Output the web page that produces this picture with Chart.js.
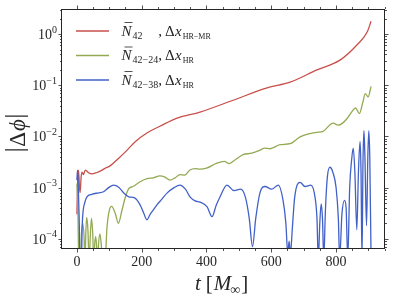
<!DOCTYPE html>
<html>
<head>
<meta charset="utf-8">
<script src="https://cdn.jsdelivr.net/npm/chart.js@4.4.0/dist/chart.umd.min.js"></script>
<style>
  html, body { margin: 0; padding: 0; background: #fff; }
</style>
</head>
<body>
<canvas id="chartFase" width="395" height="299"></canvas>
<script>
// --- dati (t in M, |dphi|) ---
var tRed = [0, 2, 5, 8, 10, 13, 16, 20, 26, 36, 46, 60, 75, 88, 100, 130, 155, 180, 216, 256, 309, 380, 482, 587, 658, 741, 812, 865, 896, 908];
var valRed = [3.0e-4, 1.1e-3, 2.2e-3, 1.0e-3, 8.0e-4, 1.6e-3, 2.0e-3, 1.8e-3, 2.2e-3, 1.95e-3, 1.85e-3, 1.95e-3, 2.15e-3, 2.4e-3, 2.6e-3, 3.8e-3, 5.4e-3, 7.9e-3, 1.17e-2, 1.58e-2, 2.29e-2, 3.0e-2, 5.1e-2, 8.9e-2, 1.15e-1, 2.0e-1, 3.1e-1, 6.2e-1, 1.1, 1.78];

var tGreen = [0, 3, 6, 11, 14, 18, 22, 25, 27, 30, 34, 38, 41, 45, 49, 52, 55, 58, 61, 64, 67, 71, 75, 80, 86, 93, 100, 107, 118, 128, 139, 150, 160, 173, 195, 216, 236, 256, 272, 287, 303, 318, 333, 349, 365, 380, 400, 432, 455, 470, 490, 513, 540, 565, 580, 596, 627, 658, 689, 715, 740, 760, 791, 806, 820, 834, 853, 860, 872, 882, 890, 899, 908];
var valGreen = [1.2e-3, 4.0e-4, 3e-5, 3e-5, 1.2e-4, 2.0e-4, 1.1e-4, 3e-5, 1.0e-4, 2.6e-4, 1.5e-4, 3e-5, 1.0e-4, 2.5e-4, 1.2e-4, 3e-5, 8e-5, 1.1e-4, 7e-5, 3e-5, 8e-5, 1.25e-4, 8e-5, 3e-5, 3e-5, 1.7e-4, 3.6e-4, 4.3e-4, 3.2e-4, 2.0e-4, 3.6e-4, 6.6e-4, 9.5e-4, 1.05e-3, 1.3e-3, 1.5e-3, 1.55e-3, 1.7e-3, 1.6e-3, 1.4e-3, 1.55e-3, 1.8e-3, 1.75e-3, 2.2e-3, 2.35e-3, 2.3e-3, 2.4e-3, 3.0e-3, 3.25e-3, 2.95e-3, 3.55e-3, 4.4e-3, 4.7e-3, 5.4e-3, 5.9e-3, 5.75e-3, 6.9e-3, 7.2e-3, 9.8e-3, 1.12e-2, 1.2e-2, 1.26e-2, 1.82e-2, 1.66e-2, 1.82e-2, 2.24e-2, 3.3e-2, 3.6e-2, 2.8e-2, 4.5e-2, 6.9e-2, 5.9e-2, 9.5e-2];

var tBlue = [0, 2, 4, 7, 10, 14, 16, 19, 24, 31, 46, 67, 82, 98, 113, 129, 144, 160, 178, 195, 206, 216, 226, 235, 247, 263, 278, 300, 318, 335, 349, 365, 380, 402, 417, 430, 442, 463, 485, 505, 520, 532, 542, 552, 565, 581, 601, 622, 636, 645, 651, 655, 659, 665, 672, 689, 704, 722, 735, 741, 745, 750, 754, 758, 762, 767, 773, 781, 790, 800, 807, 811, 818, 826, 831, 836, 842, 848, 853, 858, 864, 869, 874, 877, 880, 883, 886, 889, 894, 898, 901, 904, 908];
var valBlue = [1.4e-3, 2.2e-3, 1.2e-3, 2.5e-4, 3e-5, 3e-5, 1.5e-4, 3.4e-4, 5.0e-4, 6.6e-4, 7.4e-4, 7.9e-4, 8.3e-4, 1.0e-3, 1.12e-3, 1.02e-3, 7.9e-4, 6.6e-4, 6.3e-4, 4.6e-4, 3.2e-4, 2.35e-4, 3.0e-4, 3.6e-4, 4.6e-4, 6.0e-4, 7.8e-4, 1.0e-3, 1.12e-3, 9.3e-4, 6.6e-4, 5.5e-4, 5.2e-4, 4.2e-4, 2.7e-4, 4.5e-4, 6.6e-4, 1.12e-3, 8.7e-4, 9.3e-4, 6.5e-4, 2.5e-4, 7e-5, 2.5e-4, 7.9e-4, 1.05e-3, 9.3e-4, 1.12e-3, 5.8e-4, 2.0e-4, 5e-5, 9e-5, 5e-5, 1.6e-4, 6.3e-4, 1.26e-3, 1.05e-3, 1.12e-3, 6.5e-4, 2.5e-4, 4e-5, 2.2e-4, 4.8e-4, 2.5e-4, 4e-5, 3.5e-4, 1.6e-3, 2.5e-3, 2.0e-3, 1.0e-3, 2.5e-4, 4e-5, 3.0e-4, 5.6e-4, 4.0e-4, 4e-5, 1.0e-3, 3.5e-3, 5.9e-3, 2.0e-3, 1.5e-4, 2.0e-3, 8.0e-3, 2.0e-3, 4e-5, 3e-3, 1.3e-2, 4e-3, 1.8e-4, 4e-3, 1.3e-2, 4e-3, 4e-5];

var xTicks = [0, 200, 400, 600, 800];
var yPowers = [-4, -3, -2, -1, 0];
var legendSubs = ['42', '42\u221224', '42\u221238'];
var legendRes = ['HR\u2212MR', 'HR', 'HR'];

var ROSSO = '#c8504b';
var VERDE = '#93aa52';
var BLU = '#4261c8';
var SERIF = '"Liberation Serif", "DejaVu Serif", serif';
var INK = '#262626';

function punti(ts, vs) {
    return ts.map(function (t, i) { return { x: t, y: vs[i] }; });
}

function testo(ctx, s, x, y, font) {
    ctx.font = font;
    ctx.fillText(s, x, y);
    return x + ctx.measureText(s).width;
}

// assi, tacche, etichette, legenda e titoli disegnati a mano
var decorazioni = {
    id: 'decorazioni',
    afterDraw: function (chart) {
        var ctx = chart.ctx;
        var a = chart.chartArea;
        var sx = chart.scales.x, sy = chart.scales.y;
        ctx.save();
        ctx.strokeStyle = INK;
        ctx.fillStyle = INK;
        ctx.lineWidth = 1;
        ctx.strokeRect(Math.round(a.left) - 0.5, Math.round(a.top) + 0.5, Math.round(a.right - a.left), Math.round(a.bottom - a.top) - 1);

        ctx.lineWidth = 0.8;
        ctx.beginPath();
        // tacche x (principali ogni 200, secondarie ogni 50)
        for (var v = -50; v <= 950; v += 50) {
            if (v < sx.min || v > sx.max) continue;
            var px = Math.round(sx.getPixelForValue(v)) + 0.5;
            var len = (v % 200 === 0) ? 3.5 : 2;
            ctx.moveTo(px, a.bottom); ctx.lineTo(px, a.bottom + len);
            ctx.moveTo(px, a.top); ctx.lineTo(px, a.top - len);
        }
        // tacche y logaritmiche
        for (var p = -5; p <= 0; p++) {
            for (var k = 1; k <= 9; k++) {
                var val = k * Math.pow(10, p);
                if (val < sy.min || val > sy.max) continue;
                var py = Math.round(sy.getPixelForValue(val)) + 0.5;
                var l = (k === 1) ? 3.5 : 2;
                ctx.moveTo(a.left, py); ctx.lineTo(a.left - l, py);
                ctx.moveTo(a.right, py); ctx.lineTo(a.right + l, py);
            }
        }
        ctx.stroke();

        // etichette y 10^n
        ctx.textBaseline = 'alphabetic';
        ctx.textAlign = 'left';
        yPowers.forEach(function (p) {
            var py = sy.getPixelForValue(Math.pow(10, p));
            var sup = p === 0 ? '0' : '\u2212' + (-p);
            ctx.font = '10px ' + SERIF;
            var ws = ctx.measureText(sup).width;
            ctx.font = '14px ' + SERIF;
            var wb = ctx.measureText('10').width;
            var xr = a.left - 5;
            testo(ctx, '10', xr - ws - wb, py + 5, '14px ' + SERIF);
            testo(ctx, sup, xr - ws, py - 1.5, '10px ' + SERIF);
        });

        // legenda
        var righe = [31, 55.5, 80];
        var colori = [ROSSO, VERDE, BLU];
        var xN = 121.5;
        var ends = [];
        ctx.font = 'italic 15px ' + SERIF;
        var wN = ctx.measureText('N').width;
        ctx.font = '10px ' + SERIF;
        legendSubs.forEach(function (s) { ends.push(xN + wN + 1 + ctx.measureText(s).width); });
        var xComma = Math.max.apply(null, ends);
        righe.forEach(function (yl, i) {
            ctx.strokeStyle = colori[i];
            ctx.lineWidth = 1.4;
            ctx.beginPath();
            ctx.moveTo(76, yl); ctx.lineTo(109, yl);
            ctx.stroke();
            var yb = yl + 4.5;
            ctx.fillStyle = INK;
            ctx.strokeStyle = INK;
            testo(ctx, 'N', xN, yb, 'italic 15px ' + SERIF);
            ctx.lineWidth = 0.8;
            ctx.beginPath();
            ctx.moveTo(xN + 3, yb - 13); ctx.lineTo(xN + 11, yb - 13);
            ctx.stroke();
            testo(ctx, legendSubs[i], xN + wN + 1, yb + 3, '10px ' + SERIF);
            var x = testo(ctx, ',', xComma, yb, '15px ' + SERIF) + 3;
            x = testo(ctx, '\u0394', x, yb, '15px ' + SERIF);
            x = testo(ctx, 'x', x + 0.5, yb, 'italic 15px ' + SERIF);
            testo(ctx, legendRes[i], x + 1, yb + 3, '8px ' + SERIF);
        });

        // titolo asse x: t [M_inf]
        var xt = 195, yt = 290;
        var x2 = testo(ctx, 't', xt, yt, 'italic 21px ' + SERIF);
        x2 = testo(ctx, '[', x2 + 5, yt, '21px ' + SERIF);
        x2 = testo(ctx, 'M', x2 + 1, yt, 'italic 21px ' + SERIF);
        x2 = testo(ctx, '\u221e', x2 - 1, yt + 4, '14px ' + SERIF);
        testo(ctx, ']', x2 + 1, yt, '21px ' + SERIF);

        // titolo asse y: |Delta phi|
        ctx.save();
        ctx.translate(25, 133);
        ctx.rotate(-Math.PI / 2);
        ctx.font = '23px ' + SERIF;
        var wd = ctx.measureText('\u0394').width;
        ctx.font = 'italic 23px ' + SERIF;
        var wp = ctx.measureText('\u03d5').width;
        var tot = wd + wp + 1;
        var x0 = -tot / 2;
        testo(ctx, '\u0394', x0, 0, '23px ' + SERIF);
        testo(ctx, '\u03d5', x0 + wd + 1, 0, 'italic 23px ' + SERIF);
        ctx.lineWidth = 1.1;
        ctx.beginPath();
        ctx.moveTo(x0 - 3, -20); ctx.lineTo(x0 - 3, 3);
        ctx.moveTo(x0 + tot + 3, -20); ctx.lineTo(x0 + tot + 3, 3);
        ctx.stroke();
        ctx.restore();

        ctx.restore();
    }
};

var ctxFase = document.getElementById('chartFase').getContext('2d');
new Chart(ctxFase, {
    type: 'line',
    data: {
        datasets: [
            { label: 'N42, HR-MR', data: punti(tRed, valRed), borderColor: ROSSO, order: 2 },
            { label: 'N42-24, HR', data: punti(tGreen, valGreen), borderColor: VERDE, order: 1 },
            { label: 'N42-38, HR', data: punti(tBlue, valBlue), borderColor: BLU, order: 0 }
        ]
    },
    options: {
        responsive: false,
        animation: false,
        devicePixelRatio: 1,
        layout: { padding: { left: 0, right: 10, top: 9, bottom: 0 } },
        elements: {
            point: { radius: 0 },
            line: { borderWidth: 1.3, cubicInterpolationMode: 'monotone', fill: false }
        },
        plugins: { legend: { display: false }, tooltip: { enabled: false } },
        scales: {
            x: {
                type: 'linear',
                min: -46,
                max: 951,
                grid: { display: false, drawTicks: false },
                border: { display: false },
                afterBuildTicks: function (s) { s.ticks = xTicks.map(function (v) { return { value: v }; }); },
                afterFit: function (s) { s.height = 50; },
                ticks: {
                    color: INK,
                    padding: 5,
                    maxRotation: 0,
                    font: { family: SERIF, size: 14 },
                    callback: function (v) { return String(v); }
                }
            },
            y: {
                type: 'logarithmic',
                min: 6.3e-5,
                max: 3.1,
                grid: { display: false, drawTicks: false },
                border: { display: false },
                ticks: { display: false },
                afterFit: function (s) { s.width = 62; }
            }
        }
    },
    plugins: [decorazioni]
});
</script>
</body>
</html>
